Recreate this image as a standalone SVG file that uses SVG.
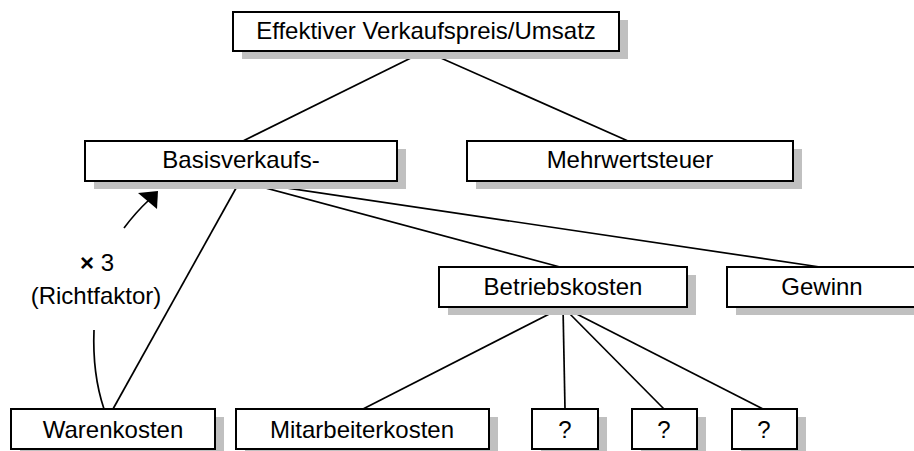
<svg xmlns="http://www.w3.org/2000/svg" width="914" height="451" viewBox="0 0 914 451">
<style>
.shadow{fill:#c0c0c0;stroke:none}
.box{fill:#ffffff;stroke:#000000;stroke-width:2}
.lbl{font-family:"Liberation Sans",Arial,sans-serif;font-size:24px;fill:#000000;text-anchor:middle}
.con{fill:none;stroke:#000000;stroke-width:1.7}
</style>
<rect width="914" height="451" fill="#ffffff"/>
<g id="connectors">
<line class="con" x1="425" y1="51" x2="243" y2="141"/>
<line class="con" x1="425" y1="51" x2="628" y2="141"/>
<line class="con" x1="240" y1="181" x2="113" y2="409"/>
<line class="con" x1="240" y1="181" x2="560" y2="267"/>
<line class="con" x1="240" y1="181" x2="820" y2="267"/>
<line class="con" x1="563" y1="307" x2="363" y2="409"/>
<line class="con" x1="563" y1="307" x2="565" y2="409"/>
<line class="con" x1="563" y1="307" x2="664" y2="409"/>
<line class="con" x1="563" y1="307" x2="763" y2="409"/>
<path class="con" d="M104,409 C96,385 93,355 94,330"/>
<path class="con" d="M124,228 Q136,212 149,200"/>
<polygon points="158,191 138,193 157,209" fill="#000000"/>
</g>
<g id="factor-label">
<text class="lbl" x="97" y="271"><tspan font-weight="bold">×</tspan> 3</text>
<text class="lbl" x="96" y="304">(Richtfaktor)</text>
</g>
<g id="n-umsatz">
<rect class="shadow" x="242" y="20" width="386" height="39"/>
<rect class="box" x="233" y="12" width="386" height="39"/>
<text class="lbl" x="426" y="39">Effektiver Verkaufspreis/Umsatz</text>
</g>
<g id="n-basis">
<rect class="shadow" x="94" y="149" width="312" height="40"/>
<rect class="box" x="85" y="141" width="312" height="40"/>
<text class="lbl" x="241" y="168">Basisverkaufs-</text>
</g>
<g id="n-mwst">
<rect class="shadow" x="476" y="149" width="326" height="40"/>
<rect class="box" x="467" y="141" width="326" height="40"/>
<text class="lbl" x="630" y="168">Mehrwertsteuer</text>
</g>
<g id="n-betrieb">
<rect class="shadow" x="448" y="275" width="248" height="40"/>
<rect class="box" x="439" y="267" width="248" height="40"/>
<text class="lbl" x="563" y="295">Betriebskosten</text>
</g>
<g id="n-gewinn">
<rect class="shadow" x="736" y="275" width="190" height="40"/>
<rect class="box" x="727" y="267" width="190" height="40"/>
<text class="lbl" x="822" y="295">Gewinn</text>
</g>
<g id="n-waren">
<rect class="shadow" x="20" y="417" width="204" height="40"/>
<rect class="box" x="11" y="409" width="204" height="40"/>
<text class="lbl" x="113" y="438">Warenkosten</text>
</g>
<g id="n-mitarbeiter">
<rect class="shadow" x="245" y="417" width="253" height="40"/>
<rect class="box" x="236" y="409" width="253" height="40"/>
<text class="lbl" x="362" y="438">Mitarbeiterkosten</text>
</g>
<g id="n-q1">
<rect class="shadow" x="541" y="417" width="66" height="40"/>
<rect class="box" x="532" y="409" width="66" height="40"/>
<text class="lbl" x="565" y="438">?</text>
</g>
<g id="n-q2">
<rect class="shadow" x="641" y="417" width="65" height="40"/>
<rect class="box" x="632" y="409" width="65" height="40"/>
<text class="lbl" x="664" y="438">?</text>
</g>
<g id="n-q3">
<rect class="shadow" x="741" y="417" width="65" height="40"/>
<rect class="box" x="732" y="409" width="65" height="40"/>
<text class="lbl" x="764" y="438">?</text>
</g>
</svg>
